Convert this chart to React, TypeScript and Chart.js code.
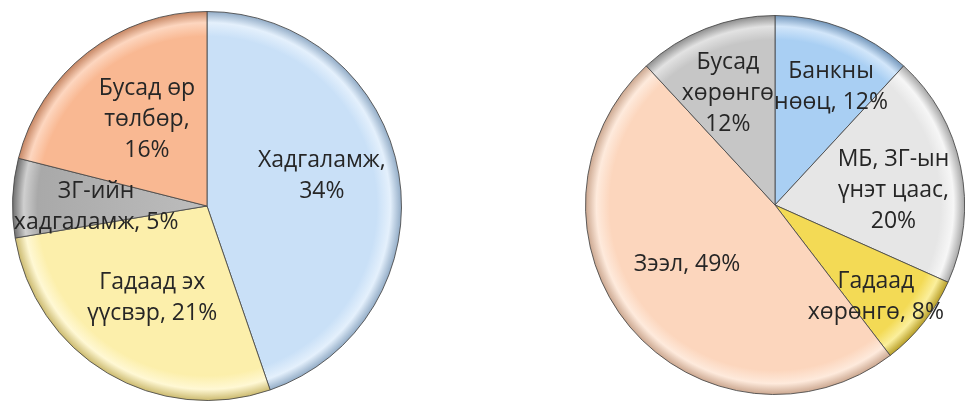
import React, { useEffect, useRef } from "react";
import { Chart, registerables } from "chart.js";

Chart.register(...registerables);

// ---------- data ----------
const leftCategories = ["Хадгаламж", "Гадаад эх үүсвэр", "ЗГ-ийн хадгаламж", "Бусад өр төлбөр"];
const leftValues = [34, 21, 5, 16];
const leftLabelText = ["Хадгаламж,\n34%", "Гадаад эх\nүүсвэр, 21%", "ЗГ-ийн\nхадгаламж, 5%", "Бусад өр\nтөлбөр,\n16%"];

const rightCategories = ["Банкны нөөц", "МБ, ЗГ-ын үнэт цаас", "Гадаад хөрөнгө", "Зээл", "Бусад хөрөнгө"];
const rightValues = [12, 20, 8, 49, 12];
const rightLabelText = ["Банкны\nнөөц, 12%", "МБ, ЗГ-ын\nүнэт цаас,\n20%", "Гадаад\nхөрөнгө, 8%", "Зээл, 49%", "Бусад\nхөрөнгө\n12%"];

// ---------- styles ----------
const leftColors = [
  { base: "#c9e0f7", light: "#e4f0fc", dark: "#8fa9c4" },
  { base: "#fcefab", light: "#fff8d4", dark: "#c9b76a" },
  { base: "#a9a9a9", light: "#cfcfcf", dark: "#6a6a6a", inner: "#bdbdbd" },
  { base: "#f9b892", light: "#fdd6bf", dark: "#c3825f" },
];
const rightColors = [
  { base: "#a9cff3", light: "#d2e6fa", dark: "#6f93b8" },
  { base: "#e6e6e6", light: "#f6f6f6", dark: "#a4a4a4" },
  { base: "#f3da55", light: "#fbef9c", dark: "#b59b22" },
  { base: "#fcd6bd", light: "#feeadc", dark: "#c9a48c" },
  { base: "#c6c6c6", light: "#e2e2e2", dark: "#8a8a8a" },
];
// label placement tweaks: [angle offset in degrees, radius fraction]
const leftLabelPos = [[-5, 0.61], [0, 0.55], [-3, 0.57], [3, 0.54]];
const rightLabelPos = [[4, 0.69], [4.5, 0.63], [4, 0.72], [6, 0.56], [-1.5, 0.64]];

const FONT = "23px 'Open Sans', 'DejaVu Sans', sans-serif";
const LINE_H = 31;

function makeBg(colors: any[]) {
  return (ctx: any) => {
    const c = colors[ctx.dataIndex];
    const chart = ctx.chart;
    const area = chart.chartArea;
    if (!area) return c.base;
    const cx = (area.left + area.right) / 2;
    const cy = (area.top + area.bottom) / 2;
    const r = Math.min(area.right - area.left, area.bottom - area.top) / 2;
    const g = chart.ctx.createRadialGradient(cx, cy, 0, cx, cy, r);
    g.addColorStop(0, c.inner || c.base);
    g.addColorStop(0.87, c.base);
    g.addColorStop(0.94, c.light);
    g.addColorStop(1, c.dark);
    return g;
  };
}

function labelPlugin(texts: string[], pos: number[][]) {
  return {
    id: "sliceLabels",
    afterDatasetsDraw(chart: any) {
      const meta = chart.getDatasetMeta(0);
      const ctx = chart.ctx;
      ctx.save();
      ctx.font = FONT;
      ctx.fillStyle = "#262626";
      ctx.textAlign = "center";
      ctx.textBaseline = "middle";
      meta.data.forEach((arc: any, i: number) => {
        const p = arc.getProps(["x", "y", "startAngle", "endAngle", "outerRadius"], true);
        const mid = (p.startAngle + p.endAngle) / 2 + (pos[i][0] * Math.PI) / 180;
        const r = p.outerRadius * pos[i][1];
        const x = p.x + Math.cos(mid) * r;
        const y = p.y + Math.sin(mid) * r;
        const lines = texts[i].split("\n");
        lines.forEach((ln, j) => {
          ctx.fillText(ln, x, y + (j - (lines.length - 1) / 2) * LINE_H);
        });
      });
      ctx.restore();
    },
  };
}

function PieChartSized(props: any) {
  const ref = useRef<HTMLCanvasElement>(null);
  useEffect(() => {
    if (!ref.current) return;
    const chart = new Chart(ref.current, {
      type: "pie",
      data: {
        labels: props.labels,
        datasets: [
          {
            data: props.values,
            backgroundColor: makeBg(props.colors),
            borderColor: "rgba(70,70,70,0.85)",
            borderWidth: 1,
          },
        ],
      },
      options: {
        animation: false,
        responsive: false,
        layout: { padding: 0 },
        plugins: { legend: { display: false }, tooltip: { enabled: false } },
      },
      plugins: [labelPlugin(props.texts, props.pos)],
    });
    return () => chart.destroy();
  }, []);
  return <canvas ref={ref} width={props.w} height={props.h} style={{ width: props.w, height: props.h }} />;
}

export default function App() {
  useEffect(() => {
    document.body.style.margin = "0";
  }, []);
  return (
    <div style={{ position: "absolute", left: 0, top: 0, width: 965, height: 405, background: "#fff" }}>
      <div style={{ position: "absolute", left: 12, top: 11, width: 390, height: 390 }}>
        <PieChartSized w={390} h={390} labels={leftCategories} values={leftValues} colors={leftColors} texts={leftLabelText} pos={leftLabelPos} />
      </div>
      <div style={{ position: "absolute", left: 585, top: 15, width: 380, height: 380 }}>
        <PieChartSized w={380} h={380} labels={rightCategories} values={rightValues} colors={rightColors} texts={rightLabelText} pos={rightLabelPos} />
      </div>
    </div>
  );
}
